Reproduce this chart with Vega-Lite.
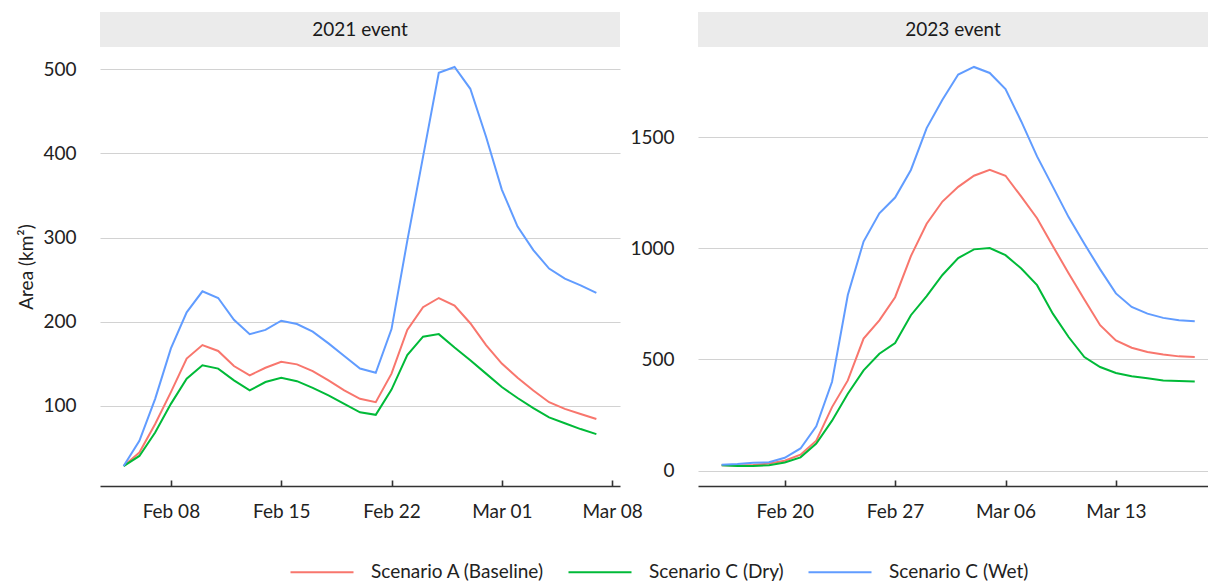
{
  "$schema": "https://vega.github.io/schema/vega-lite/v6.json",
  "padding": {"left": 17, "top": 12, "right": 0, "bottom": 0},
  "config": {
    "font": "Lato",
    "view": {"stroke": null},
    "axis": {"labelFont": "Lato", "labelFontSize": 19, "labelColor": "#222222", "titleFont": "Lato", "titleFontSize": 19, "titleFontWeight": "normal", "titleColor": "#222222"},
    "axisX": {"grid": false, "domainColor": "#333333", "domainWidth": 1.6, "tickColor": "#333333", "tickWidth": 1.6, "tickSize": -6, "labelPadding": 22},
    "axisY": {"domain": false, "ticks": false, "gridColor": "#d2d2d2", "gridWidth": 1.2, "labelPadding": 24, "format": "d"},
    "legend": {"labelFont": "Lato", "labelFontSize": 19, "labelColor": "#222222", "padding": 0, "labelLimit": 400}
  },
  "datasets": {
    "event2021": [
      {"date": "2021-02-05", "scenario": "Scenario A (Baseline)", "area": 28}, {"date": "2021-02-05", "scenario": "Scenario C (Dry)", "area": 28}, {"date": "2021-02-05", "scenario": "Scenario C (Wet)", "area": 28},
      {"date": "2021-02-06", "scenario": "Scenario A (Baseline)", "area": 44}, {"date": "2021-02-06", "scenario": "Scenario C (Dry)", "area": 40}, {"date": "2021-02-06", "scenario": "Scenario C (Wet)", "area": 58},
      {"date": "2021-02-07", "scenario": "Scenario A (Baseline)", "area": 78}, {"date": "2021-02-07", "scenario": "Scenario C (Dry)", "area": 68}, {"date": "2021-02-07", "scenario": "Scenario C (Wet)", "area": 108},
      {"date": "2021-02-08", "scenario": "Scenario A (Baseline)", "area": 116}, {"date": "2021-02-08", "scenario": "Scenario C (Dry)", "area": 102}, {"date": "2021-02-08", "scenario": "Scenario C (Wet)", "area": 168},
      {"date": "2021-02-09", "scenario": "Scenario A (Baseline)", "area": 156}, {"date": "2021-02-09", "scenario": "Scenario C (Dry)", "area": 132}, {"date": "2021-02-09", "scenario": "Scenario C (Wet)", "area": 211},
      {"date": "2021-02-10", "scenario": "Scenario A (Baseline)", "area": 172}, {"date": "2021-02-10", "scenario": "Scenario C (Dry)", "area": 148}, {"date": "2021-02-10", "scenario": "Scenario C (Wet)", "area": 236},
      {"date": "2021-02-11", "scenario": "Scenario A (Baseline)", "area": 165}, {"date": "2021-02-11", "scenario": "Scenario C (Dry)", "area": 144}, {"date": "2021-02-11", "scenario": "Scenario C (Wet)", "area": 228},
      {"date": "2021-02-12", "scenario": "Scenario A (Baseline)", "area": 147}, {"date": "2021-02-12", "scenario": "Scenario C (Dry)", "area": 130}, {"date": "2021-02-12", "scenario": "Scenario C (Wet)", "area": 202},
      {"date": "2021-02-13", "scenario": "Scenario A (Baseline)", "area": 136}, {"date": "2021-02-13", "scenario": "Scenario C (Dry)", "area": 118}, {"date": "2021-02-13", "scenario": "Scenario C (Wet)", "area": 185},
      {"date": "2021-02-14", "scenario": "Scenario A (Baseline)", "area": 145}, {"date": "2021-02-14", "scenario": "Scenario C (Dry)", "area": 128}, {"date": "2021-02-14", "scenario": "Scenario C (Wet)", "area": 190},
      {"date": "2021-02-15", "scenario": "Scenario A (Baseline)", "area": 152}, {"date": "2021-02-15", "scenario": "Scenario C (Dry)", "area": 133}, {"date": "2021-02-15", "scenario": "Scenario C (Wet)", "area": 201},
      {"date": "2021-02-16", "scenario": "Scenario A (Baseline)", "area": 149}, {"date": "2021-02-16", "scenario": "Scenario C (Dry)", "area": 129}, {"date": "2021-02-16", "scenario": "Scenario C (Wet)", "area": 197},
      {"date": "2021-02-17", "scenario": "Scenario A (Baseline)", "area": 141}, {"date": "2021-02-17", "scenario": "Scenario C (Dry)", "area": 121}, {"date": "2021-02-17", "scenario": "Scenario C (Wet)", "area": 188},
      {"date": "2021-02-18", "scenario": "Scenario A (Baseline)", "area": 130}, {"date": "2021-02-18", "scenario": "Scenario C (Dry)", "area": 112}, {"date": "2021-02-18", "scenario": "Scenario C (Wet)", "area": 174},
      {"date": "2021-02-19", "scenario": "Scenario A (Baseline)", "area": 118}, {"date": "2021-02-19", "scenario": "Scenario C (Dry)", "area": 102}, {"date": "2021-02-19", "scenario": "Scenario C (Wet)", "area": 159},
      {"date": "2021-02-20", "scenario": "Scenario A (Baseline)", "area": 108}, {"date": "2021-02-20", "scenario": "Scenario C (Dry)", "area": 92}, {"date": "2021-02-20", "scenario": "Scenario C (Wet)", "area": 144},
      {"date": "2021-02-21", "scenario": "Scenario A (Baseline)", "area": 104}, {"date": "2021-02-21", "scenario": "Scenario C (Dry)", "area": 89}, {"date": "2021-02-21", "scenario": "Scenario C (Wet)", "area": 139},
      {"date": "2021-02-22", "scenario": "Scenario A (Baseline)", "area": 138}, {"date": "2021-02-22", "scenario": "Scenario C (Dry)", "area": 119}, {"date": "2021-02-22", "scenario": "Scenario C (Wet)", "area": 191},
      {"date": "2021-02-23", "scenario": "Scenario A (Baseline)", "area": 190}, {"date": "2021-02-23", "scenario": "Scenario C (Dry)", "area": 160}, {"date": "2021-02-23", "scenario": "Scenario C (Wet)", "area": 296},
      {"date": "2021-02-24", "scenario": "Scenario A (Baseline)", "area": 217}, {"date": "2021-02-24", "scenario": "Scenario C (Dry)", "area": 182}, {"date": "2021-02-24", "scenario": "Scenario C (Wet)", "area": 396},
      {"date": "2021-02-25", "scenario": "Scenario A (Baseline)", "area": 228}, {"date": "2021-02-25", "scenario": "Scenario C (Dry)", "area": 185}, {"date": "2021-02-25", "scenario": "Scenario C (Wet)", "area": 496},
      {"date": "2021-02-26", "scenario": "Scenario A (Baseline)", "area": 219}, {"date": "2021-02-26", "scenario": "Scenario C (Dry)", "area": 169}, {"date": "2021-02-26", "scenario": "Scenario C (Wet)", "area": 503},
      {"date": "2021-02-27", "scenario": "Scenario A (Baseline)", "area": 198}, {"date": "2021-02-27", "scenario": "Scenario C (Dry)", "area": 154}, {"date": "2021-02-27", "scenario": "Scenario C (Wet)", "area": 477},
      {"date": "2021-02-28", "scenario": "Scenario A (Baseline)", "area": 172}, {"date": "2021-02-28", "scenario": "Scenario C (Dry)", "area": 138}, {"date": "2021-02-28", "scenario": "Scenario C (Wet)", "area": 420},
      {"date": "2021-03-01", "scenario": "Scenario A (Baseline)", "area": 150}, {"date": "2021-03-01", "scenario": "Scenario C (Dry)", "area": 122}, {"date": "2021-03-01", "scenario": "Scenario C (Wet)", "area": 357},
      {"date": "2021-03-02", "scenario": "Scenario A (Baseline)", "area": 133}, {"date": "2021-03-02", "scenario": "Scenario C (Dry)", "area": 109}, {"date": "2021-03-02", "scenario": "Scenario C (Wet)", "area": 313},
      {"date": "2021-03-03", "scenario": "Scenario A (Baseline)", "area": 118}, {"date": "2021-03-03", "scenario": "Scenario C (Dry)", "area": 97}, {"date": "2021-03-03", "scenario": "Scenario C (Wet)", "area": 285},
      {"date": "2021-03-04", "scenario": "Scenario A (Baseline)", "area": 104}, {"date": "2021-03-04", "scenario": "Scenario C (Dry)", "area": 86}, {"date": "2021-03-04", "scenario": "Scenario C (Wet)", "area": 263},
      {"date": "2021-03-05", "scenario": "Scenario A (Baseline)", "area": 96}, {"date": "2021-03-05", "scenario": "Scenario C (Dry)", "area": 79}, {"date": "2021-03-05", "scenario": "Scenario C (Wet)", "area": 251},
      {"date": "2021-03-06", "scenario": "Scenario A (Baseline)", "area": 90}, {"date": "2021-03-06", "scenario": "Scenario C (Dry)", "area": 72}, {"date": "2021-03-06", "scenario": "Scenario C (Wet)", "area": 243},
      {"date": "2021-03-07", "scenario": "Scenario A (Baseline)", "area": 84}, {"date": "2021-03-07", "scenario": "Scenario C (Dry)", "area": 66}, {"date": "2021-03-07", "scenario": "Scenario C (Wet)", "area": 234}
    ],
    "event2023": [
      {"date": "2023-02-16", "scenario": "Scenario A (Baseline)", "area": 25}, {"date": "2023-02-16", "scenario": "Scenario C (Dry)", "area": 25}, {"date": "2023-02-16", "scenario": "Scenario C (Wet)", "area": 27},
      {"date": "2023-02-17", "scenario": "Scenario A (Baseline)", "area": 24}, {"date": "2023-02-17", "scenario": "Scenario C (Dry)", "area": 21}, {"date": "2023-02-17", "scenario": "Scenario C (Wet)", "area": 30},
      {"date": "2023-02-18", "scenario": "Scenario A (Baseline)", "area": 26}, {"date": "2023-02-18", "scenario": "Scenario C (Dry)", "area": 21}, {"date": "2023-02-18", "scenario": "Scenario C (Wet)", "area": 36},
      {"date": "2023-02-19", "scenario": "Scenario A (Baseline)", "area": 32}, {"date": "2023-02-19", "scenario": "Scenario C (Dry)", "area": 25}, {"date": "2023-02-19", "scenario": "Scenario C (Wet)", "area": 38},
      {"date": "2023-02-20", "scenario": "Scenario A (Baseline)", "area": 45}, {"date": "2023-02-20", "scenario": "Scenario C (Dry)", "area": 37}, {"date": "2023-02-20", "scenario": "Scenario C (Wet)", "area": 58},
      {"date": "2023-02-21", "scenario": "Scenario A (Baseline)", "area": 72}, {"date": "2023-02-21", "scenario": "Scenario C (Dry)", "area": 60}, {"date": "2023-02-21", "scenario": "Scenario C (Wet)", "area": 100},
      {"date": "2023-02-22", "scenario": "Scenario A (Baseline)", "area": 135}, {"date": "2023-02-22", "scenario": "Scenario C (Dry)", "area": 122}, {"date": "2023-02-22", "scenario": "Scenario C (Wet)", "area": 200},
      {"date": "2023-02-23", "scenario": "Scenario A (Baseline)", "area": 286}, {"date": "2023-02-23", "scenario": "Scenario C (Dry)", "area": 225}, {"date": "2023-02-23", "scenario": "Scenario C (Wet)", "area": 400},
      {"date": "2023-02-24", "scenario": "Scenario A (Baseline)", "area": 406}, {"date": "2023-02-24", "scenario": "Scenario C (Dry)", "area": 346}, {"date": "2023-02-24", "scenario": "Scenario C (Wet)", "area": 790},
      {"date": "2023-02-25", "scenario": "Scenario A (Baseline)", "area": 594}, {"date": "2023-02-25", "scenario": "Scenario C (Dry)", "area": 451}, {"date": "2023-02-25", "scenario": "Scenario C (Wet)", "area": 1030},
      {"date": "2023-02-26", "scenario": "Scenario A (Baseline)", "area": 676}, {"date": "2023-02-26", "scenario": "Scenario C (Dry)", "area": 526}, {"date": "2023-02-26", "scenario": "Scenario C (Wet)", "area": 1157},
      {"date": "2023-02-27", "scenario": "Scenario A (Baseline)", "area": 780}, {"date": "2023-02-27", "scenario": "Scenario C (Dry)", "area": 574}, {"date": "2023-02-27", "scenario": "Scenario C (Wet)", "area": 1228},
      {"date": "2023-02-28", "scenario": "Scenario A (Baseline)", "area": 965}, {"date": "2023-02-28", "scenario": "Scenario C (Dry)", "area": 699}, {"date": "2023-02-28", "scenario": "Scenario C (Wet)", "area": 1352},
      {"date": "2023-03-01", "scenario": "Scenario A (Baseline)", "area": 1110}, {"date": "2023-03-01", "scenario": "Scenario C (Dry)", "area": 785}, {"date": "2023-03-01", "scenario": "Scenario C (Wet)", "area": 1540},
      {"date": "2023-03-02", "scenario": "Scenario A (Baseline)", "area": 1210}, {"date": "2023-03-02", "scenario": "Scenario C (Dry)", "area": 880}, {"date": "2023-03-02", "scenario": "Scenario C (Wet)", "area": 1668},
      {"date": "2023-03-03", "scenario": "Scenario A (Baseline)", "area": 1276}, {"date": "2023-03-03", "scenario": "Scenario C (Dry)", "area": 956}, {"date": "2023-03-03", "scenario": "Scenario C (Wet)", "area": 1781},
      {"date": "2023-03-04", "scenario": "Scenario A (Baseline)", "area": 1326}, {"date": "2023-03-04", "scenario": "Scenario C (Dry)", "area": 995}, {"date": "2023-03-04", "scenario": "Scenario C (Wet)", "area": 1815},
      {"date": "2023-03-05", "scenario": "Scenario A (Baseline)", "area": 1353}, {"date": "2023-03-05", "scenario": "Scenario C (Dry)", "area": 1001}, {"date": "2023-03-05", "scenario": "Scenario C (Wet)", "area": 1788},
      {"date": "2023-03-06", "scenario": "Scenario A (Baseline)", "area": 1326}, {"date": "2023-03-06", "scenario": "Scenario C (Dry)", "area": 969}, {"date": "2023-03-06", "scenario": "Scenario C (Wet)", "area": 1716},
      {"date": "2023-03-07", "scenario": "Scenario A (Baseline)", "area": 1232}, {"date": "2023-03-07", "scenario": "Scenario C (Dry)", "area": 909}, {"date": "2023-03-07", "scenario": "Scenario C (Wet)", "area": 1570},
      {"date": "2023-03-08", "scenario": "Scenario A (Baseline)", "area": 1135}, {"date": "2023-03-08", "scenario": "Scenario C (Dry)", "area": 834}, {"date": "2023-03-08", "scenario": "Scenario C (Wet)", "area": 1413},
      {"date": "2023-03-09", "scenario": "Scenario A (Baseline)", "area": 1010}, {"date": "2023-03-09", "scenario": "Scenario C (Dry)", "area": 706}, {"date": "2023-03-09", "scenario": "Scenario C (Wet)", "area": 1277},
      {"date": "2023-03-10", "scenario": "Scenario A (Baseline)", "area": 888}, {"date": "2023-03-10", "scenario": "Scenario C (Dry)", "area": 601}, {"date": "2023-03-10", "scenario": "Scenario C (Wet)", "area": 1140},
      {"date": "2023-03-11", "scenario": "Scenario A (Baseline)", "area": 770}, {"date": "2023-03-11", "scenario": "Scenario C (Dry)", "area": 511}, {"date": "2023-03-11", "scenario": "Scenario C (Wet)", "area": 1020},
      {"date": "2023-03-12", "scenario": "Scenario A (Baseline)", "area": 654}, {"date": "2023-03-12", "scenario": "Scenario C (Dry)", "area": 466}, {"date": "2023-03-12", "scenario": "Scenario C (Wet)", "area": 905},
      {"date": "2023-03-13", "scenario": "Scenario A (Baseline)", "area": 586}, {"date": "2023-03-13", "scenario": "Scenario C (Dry)", "area": 439}, {"date": "2023-03-13", "scenario": "Scenario C (Wet)", "area": 797},
      {"date": "2023-03-14", "scenario": "Scenario A (Baseline)", "area": 553}, {"date": "2023-03-14", "scenario": "Scenario C (Dry)", "area": 425}, {"date": "2023-03-14", "scenario": "Scenario C (Wet)", "area": 736},
      {"date": "2023-03-15", "scenario": "Scenario A (Baseline)", "area": 534}, {"date": "2023-03-15", "scenario": "Scenario C (Dry)", "area": 416}, {"date": "2023-03-15", "scenario": "Scenario C (Wet)", "area": 706},
      {"date": "2023-03-16", "scenario": "Scenario A (Baseline)", "area": 522}, {"date": "2023-03-16", "scenario": "Scenario C (Dry)", "area": 406}, {"date": "2023-03-16", "scenario": "Scenario C (Wet)", "area": 687},
      {"date": "2023-03-17", "scenario": "Scenario A (Baseline)", "area": 514}, {"date": "2023-03-17", "scenario": "Scenario C (Dry)", "area": 403}, {"date": "2023-03-17", "scenario": "Scenario C (Wet)", "area": 676},
      {"date": "2023-03-18", "scenario": "Scenario A (Baseline)", "area": 511}, {"date": "2023-03-18", "scenario": "Scenario C (Dry)", "area": 401}, {"date": "2023-03-18", "scenario": "Scenario C (Wet)", "area": 672}
    ]
  },
  "concat": [
    {
      "width": 520, "height": 35,
      "view": {"fill": "#ebebeb", "stroke": null},
      "data": {"values": [{"event": "2021 event"}]},
      "mark": {"type": "text", "fontSize": 19, "color": "#1a1a1a", "font": "Lato"},
      "encoding": {"text": {"field": "event", "type": "nominal"}}
    },
    {
      "width": 510, "height": 35,
      "view": {"fill": "#ebebeb", "stroke": null},
      "data": {"values": [{"event": "2023 event"}]},
      "mark": {"type": "text", "fontSize": 19, "color": "#1a1a1a", "font": "Lato"},
      "encoding": {"text": {"field": "event", "type": "nominal"}}
    },
    {
      "width": 520, "height": 439,
      "data": {"name": "event2021"},
      "mark": {"type": "line", "strokeWidth": 2},
      "encoding": {
        "x": {
          "field": "date", "type": "temporal",
          "scale": {"type": "utc", "nice": false, "domain": [
            {"year": 2021, "month": 2, "date": 3, "hours": 12, "utc": true},
            {"year": 2021, "month": 3, "date": 8, "hours": 12, "utc": true}
          ]},
          "axis": {"title": null, "format": "%b %d", "values": [
            {"year": 2021, "month": 2, "date": 8, "utc": true},
            {"year": 2021, "month": 2, "date": 15, "utc": true},
            {"year": 2021, "month": 2, "date": 22, "utc": true},
            {"year": 2021, "month": 3, "date": 1, "utc": true},
            {"year": 2021, "month": 3, "date": 8, "utc": true}
          ]}
        },
        "y": {
          "field": "area", "type": "quantitative",
          "scale": {"domain": [4.25, 526.75], "zero": false, "nice": false},
          "axis": {"title": "Area (km²)", "titlePadding": 6, "values": [100, 200, 300, 400, 500]}
        },
        "color": {
          "field": "scenario", "type": "nominal",
          "scale": {"domain": ["Scenario A (Baseline)", "Scenario C (Dry)", "Scenario C (Wet)"], "range": ["#F8766D", "#00BA38", "#619CFF"]},
          "legend": {"orient": "none", "legendX": 212.5, "legendY": 550.5, "direction": "horizontal", "title": null, "symbolType": "M-5.25,0H5.25", "symbolSize": 144, "symbolStrokeWidth": 2, "labelOffset": 39.5, "columnPadding": 20}
        }
      }
    },
    {
      "width": 510, "height": 439,
      "data": {"name": "event2023"},
      "mark": {"type": "line", "strokeWidth": 2},
      "encoding": {
        "x": {
          "field": "date", "type": "temporal",
          "scale": {"type": "utc", "nice": false, "domain": [
            {"year": 2023, "month": 2, "date": 14, "hours": 12, "utc": true},
            {"year": 2023, "month": 3, "date": 18, "hours": 20, "minutes": 10, "utc": true}
          ]},
          "axis": {"title": null, "format": "%b %d", "values": [
            {"year": 2023, "month": 2, "date": 20, "utc": true},
            {"year": 2023, "month": 2, "date": 27, "utc": true},
            {"year": 2023, "month": 3, "date": 6, "utc": true},
            {"year": 2023, "month": 3, "date": 13, "utc": true}
          ]}
        },
        "y": {
          "field": "area", "type": "quantitative",
          "scale": {"domain": [-68.7, 1904.7], "zero": false, "nice": false},
          "axis": {"title": null, "values": [0, 500, 1000, 1500]}
        },
        "color": {
          "field": "scenario", "type": "nominal",
          "scale": {"domain": ["Scenario A (Baseline)", "Scenario C (Dry)", "Scenario C (Wet)"], "range": ["#F8766D", "#00BA38", "#619CFF"]},
          "legend": {"orient": "none", "legendX": 212.5, "legendY": 550.5, "direction": "horizontal", "title": null, "symbolType": "M-5.25,0H5.25", "symbolSize": 144, "symbolStrokeWidth": 2, "labelOffset": 39.5, "columnPadding": 20}
        }
      }
    }
  ],
  "columns": 2,
  "spacing": {"row": 0, "column": 78},
  "bounds": "flush",
  "resolve": {"scale": {"color": "shared"}}
}
